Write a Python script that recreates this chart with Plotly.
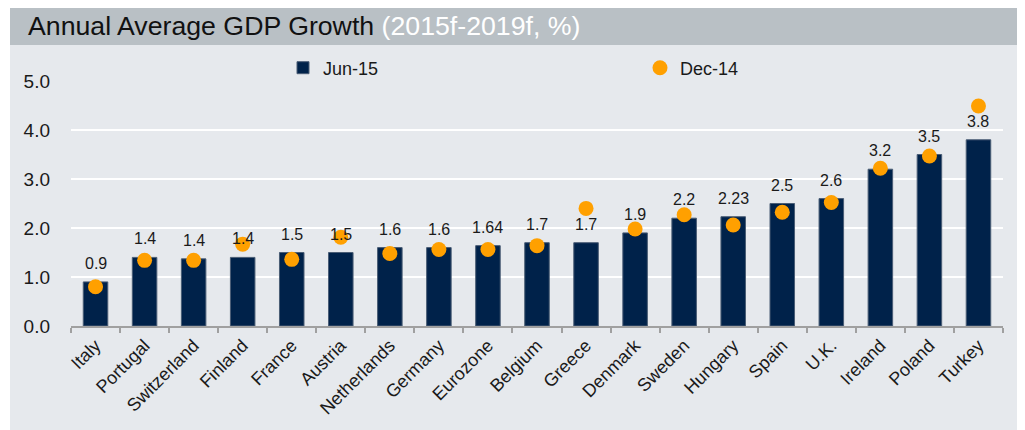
import plotly.graph_objects as go

countries = ["Italy", "Portugal", "Switzerland", "Finland", "France", "Austria",
             "Netherlands", "Germany", "Eurozone", "Belgium", "Greece", "Denmark",
             "Sweden", "Hungary", "Spain", "U.K.", "Ireland", "Poland", "Turkey"]
jun15 = [0.90, 1.40, 1.37, 1.40, 1.50, 1.50, 1.60, 1.60, 1.64, 1.70, 1.70, 1.90,
         2.20, 2.23, 2.50, 2.60, 3.20, 3.50, 3.80]
jun15_labels = ["0.9", "1.4", "1.4", "1.4", "1.5", "1.5", "1.6", "1.6", "1.64", "1.7",
                "1.7", "1.9", "2.2", "2.23", "2.5", "2.6", "3.2", "3.5", "3.8"]
dec14 = [0.80, 1.34, 1.34, 1.67, 1.36, 1.81, 1.48, 1.56, 1.56, 1.64, 2.40, 1.98,
         2.27, 2.06, 2.32, 2.52, 3.22, 3.47, 4.49]
y_ticks = [0, 1, 2, 3, 4, 5]

# page has an 8px body margin, so the figure is placed at (8, 8)
OFF = 8
W, H = 1025 - OFF, 430 - OFF
L, R, T, B = 71 - OFF, 22, 81 - OFF, 104
pw, ph = W - L - R, H - T - B


def px(x):
    return (x - OFF - L) / pw


def py(y):
    return (H - B - (y - OFF)) / ph


fig = go.Figure()
fig.add_trace(go.Bar(
    x=countries, y=jun15, name="Jun-15", width=0.5,
    marker=dict(color="#00224a", line=dict(color="#4a5d75", width=1)),
))
fig.add_trace(go.Scatter(
    x=countries, y=dec14, name="Dec-14", mode="markers",
    marker=dict(color="#ffa000", size=15),
))

for c, v, t in zip(countries, jun15, jun15_labels):
    fig.add_annotation(x=c, y=v, text=t, showarrow=False, yanchor="bottom",
                       yshift=8, font=dict(size=16, color="#1a1a1a"))

fig.add_annotation(
    xref="paper", yref="paper", x=px(26), y=py(26), xanchor="left", yanchor="middle",
    text="Annual Average GDP Growth <span style='color:white'>(2015f-2019f, %)</span>",
    showarrow=False, font=dict(size=26.7, color="#111111"),
)

shapes = [
    dict(type="rect", xref="paper", yref="paper", x0=px(0), x1=px(10), y0=py(0), y1=py(430),
         fillcolor="white", line=dict(width=0), layer="below"),
    dict(type="rect", xref="paper", yref="paper", x0=px(10), x1=px(1025), y0=py(6), y1=py(45),
         fillcolor="#b9c0c5", line=dict(width=0), layer="below"),
]

fig.update_layout(
    width=W, height=H,
    margin=dict(l=L, r=R, t=T, b=B, autoexpand=False),
    paper_bgcolor="#e6e9ed", plot_bgcolor="#e6e9ed",
    font=dict(family="Liberation Sans, Arial, sans-serif", color="#1a1a1a"),
    shapes=shapes,
    showlegend=True,
    legend=dict(orientation="h", xref="container", yref="container",
                x=(323 - OFF - 40) / W, y=1 - (68 - OFF) / H,
                xanchor="left", yanchor="middle",
                entrywidth=312, entrywidthmode="pixels",
                bgcolor="rgba(0,0,0,0)", font=dict(size=18, color="#1a1a1a")),
)
fig.update_yaxes(range=[0, 5], tickvals=y_ticks, tickformat=".1f",
                 gridcolor="white", gridwidth=2, zeroline=False, showline=False,
                 ticks="", ticklabelstandoff=20, tickfont=dict(size=19, color="#1a1a1a"))
fig.update_xaxes(range=[-0.5, len(countries) - 0.5],
                 showline=True, linecolor="#a0a0a0", linewidth=2, ticks="outside",
                 tickson="boundaries", ticklen=5, tickwidth=2, tickcolor="#a0a0a0",
                 tickangle=-45, tickfont=dict(size=18, color="#1a1a1a"), showgrid=False)

fig.write_html("out.html")
